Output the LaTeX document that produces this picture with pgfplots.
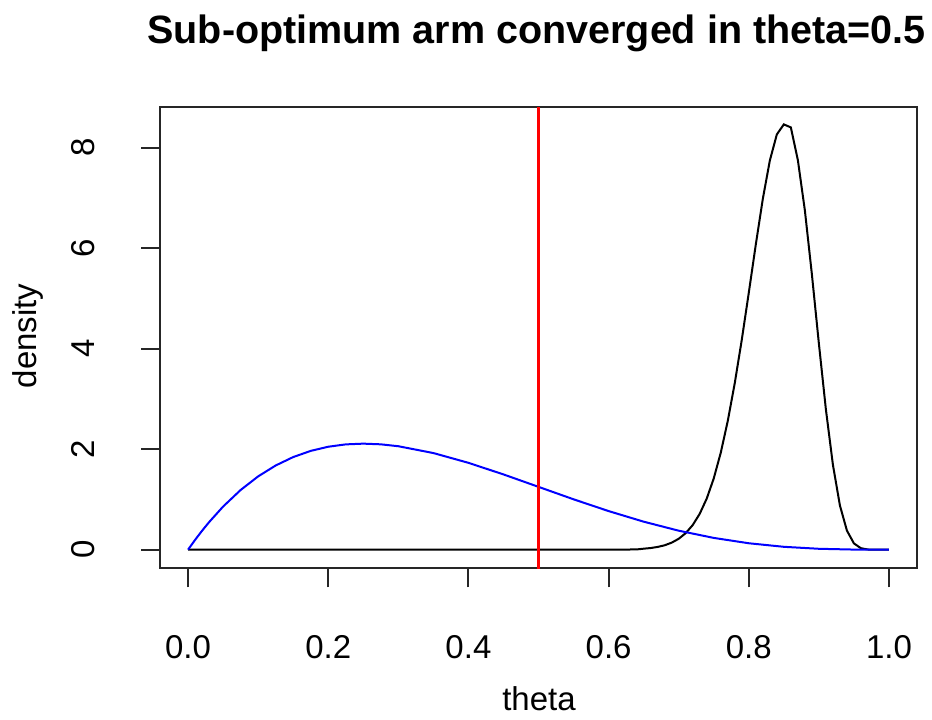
\documentclass[border=0pt]{standalone}
\usepackage{pgfplots}
\pgfplotsset{compat=1.18}
\usepackage{fontspec}
\setmainfont{Liberation Sans}
\begin{document}
\begin{tikzpicture}[x=1bp,y=1bp]
\path[use as bounding box] (0,0) rectangle (932,720);
\begin{axis}[
  at={(160bp,151.7bp)}, anchor=south west,
  width=757bp, height=461bp, scale only axis,
  xmin=-0.04, xmax=1.04, ymin=-0.37, ymax=8.8,
  axis line style={line width=2bp, black!85},
  xtick={0,0.2,0.4,0.6,0.8,1.0},
  xticklabels={0.0,0.2,0.4,0.6,0.8,1.0},
  ytick={0,2,4,6,8},
  yticklabels={0,2,4,6,8},
  tick align=outside, xtick pos=bottom, ytick pos=left,
  major tick length=19bp,
  tick style={line width=2bp, black!85},
  ticklabel style={font=\fontsize{33bp}{36bp}\selectfont},
  xticklabel style={anchor=base, yshift=-71bp},
  yticklabel style={anchor=base, xshift=-47bp, rotate=90},
  clip=true,
]
\addplot[black, line width=2bp] coordinates {
(0,0) (0.60,0) (0.64,0.005) (0.65,0.020) (0.66,0.033) (0.67,0.055) (0.68,0.088)
(0.69,0.140) (0.70,0.217) (0.71,0.329) (0.72,0.490) (0.73,0.714) (0.74,1.017)
(0.75,1.417) (0.76,1.928) (0.77,2.560) (0.78,3.314) (0.79,4.175) (0.80,5.111)
(0.81,6.070) (0.82,6.977) (0.83,7.739) (0.84,8.260) (0.85,8.46) (0.86,8.40)
(0.87,7.75) (0.88,6.75) (0.89,5.48) (0.90,4.10) (0.91,2.79) (0.92,1.69)
(0.93,0.88) (0.94,0.38) (0.95,0.125) (0.96,0.029) (0.97,0.004) (0.98,0) (1.0,0)
};
\addplot[blue, line width=2bp] coordinates {
(0,0) (0.01,0.1941) (0.02,0.3765) (0.03,0.5476) (0.05,0.8574) (0.075,1.1872)
(0.10,1.458) (0.125,1.6748) (0.15,1.8424) (0.175,1.9653) (0.20,2.048)
(0.225,2.0947) (0.25,2.1094) (0.275,2.0959) (0.30,2.058) (0.35,1.9224)
(0.40,1.728) (0.45,1.4974) (0.50,1.25) (0.55,1.0024) (0.60,0.768)
(0.65,0.5574) (0.70,0.378) (0.75,0.2344) (0.80,0.128) (0.85,0.0574)
(0.90,0.018) (0.95,0.0024) (1.0,0)
};
\addplot[red, line width=2.2bp] coordinates {(0.5,-1) (0.5,10)};
\end{axis}
\node[anchor=base, inner sep=0pt, font=\fontsize{39.5bp}{42bp}\selectfont\bfseries] at (536.5,676.7) {Sub-optimum arm converged in theta=0.5};
\node[anchor=base, inner sep=0pt, font=\fontsize{33bp}{36bp}\selectfont] at (539,9) {theta};
\node[anchor=base, inner sep=0pt, rotate=90, font=\fontsize{33bp}{36bp}\selectfont] at (36.7,384) {density};
\end{tikzpicture}
\end{document}
